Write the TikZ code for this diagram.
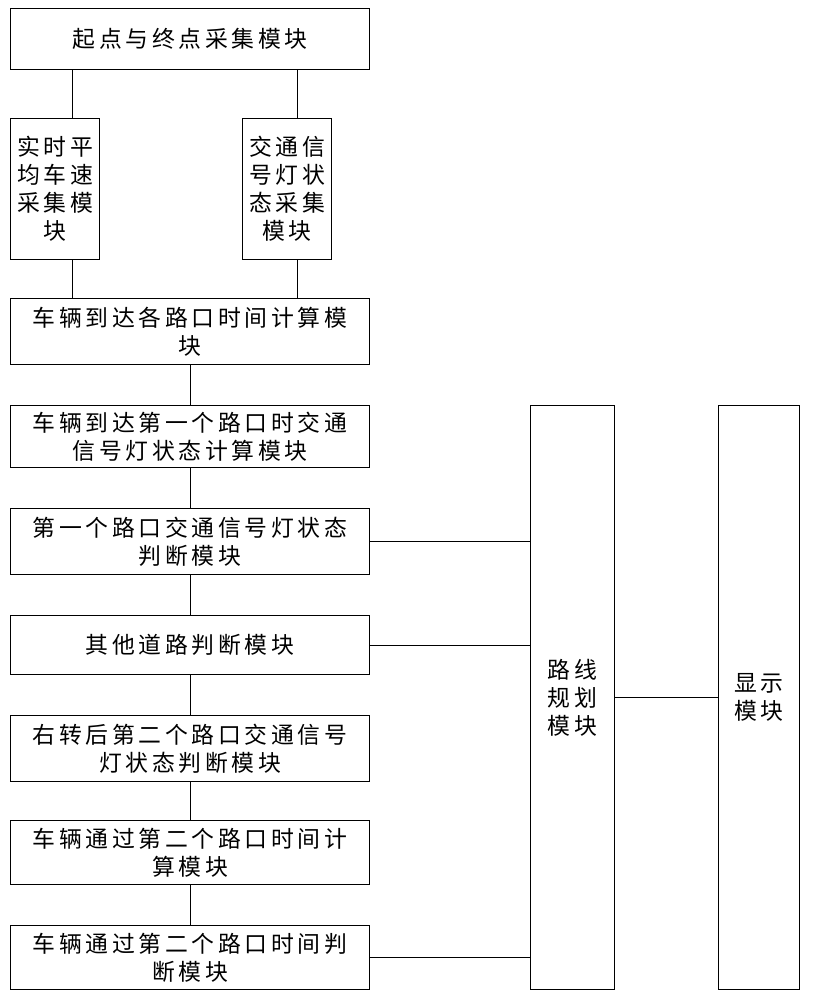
\documentclass[tikz,border=0pt]{standalone}
\usepackage{fontspec}
\setmainfont[LetterSpace=16]{Noto Sans CJK SC}
\begin{document}
\begin{tikzpicture}[x=0.03cm,y=-0.03cm,line width=0.8pt,
  box/.style={draw,inner sep=0pt,align=center,font=\fontsize{19.5}{24}\selectfont}]
\useasboundingbox (0,0) rectangle (813,1000);
\newcommand\bx[6]{\node[box,minimum width=#4*0.03cm-0.8pt,minimum height=#5*0.03cm-0.8pt] (#1) at ({(#2+#4/2)},{(#3+#5/2)}) {#6};}
\bx{a}{10}{8}{360}{62}{起点与终点采集模块}
\bx{l}{10}{118}{90}{142}{\fontsize{19.5}{30}\selectfont 实时平\\均车速\\采集模\\块}
\bx{r}{242}{118}{90}{142}{\fontsize{19.5}{30}\selectfont 交通信\\号灯状\\态采集\\模块}
\bx{b3}{10}{298}{360}{67}{车辆到达各路口时间计算模\\块}
\bx{b4}{10}{405}{360}{63}{车辆到达第一个路口时交通\\信号灯状态计算模块}
\bx{b5}{10}{508}{360}{67}{第一个路口交通信号灯状态\\判断模块}
\bx{b6}{10}{615}{360}{60}{其他道路判断模块}
\bx{b7}{10}{715}{360}{67}{右转后第二个路口交通信号\\灯状态判断模块}
\bx{b8}{10}{820}{360}{65}{车辆通过第二个路口时间计\\算模块}
\bx{b9}{10}{925}{360}{65}{车辆通过第二个路口时间判\\断模块}
\bx{rt}{530}{405}{85}{585}{路线\\规划\\模块}
\bx{dp}{718}{405}{82}{585}{显示\\模块}
\coordinate (lx) at (72,0);
\coordinate (rx) at (297,0);
\draw (lx |- l.north) -- (lx |- a.south);
\draw (rx |- r.north) -- (rx |- a.south);
\draw (lx |- l.south) -- (lx |- b3.north);
\draw (rx |- r.south) -- (rx |- b3.north);
\foreach \p/\q in {b3/b4,b4/b5,b5/b6,b6/b7,b7/b8,b8/b9} \draw (\p.south) -- (\q.north);
\foreach \p in {b5,b6,b9} \draw (\p.east) -- (\p.east -| rt.west);
\draw (rt.east) -- (dp.west);
\end{tikzpicture}
\end{document}
